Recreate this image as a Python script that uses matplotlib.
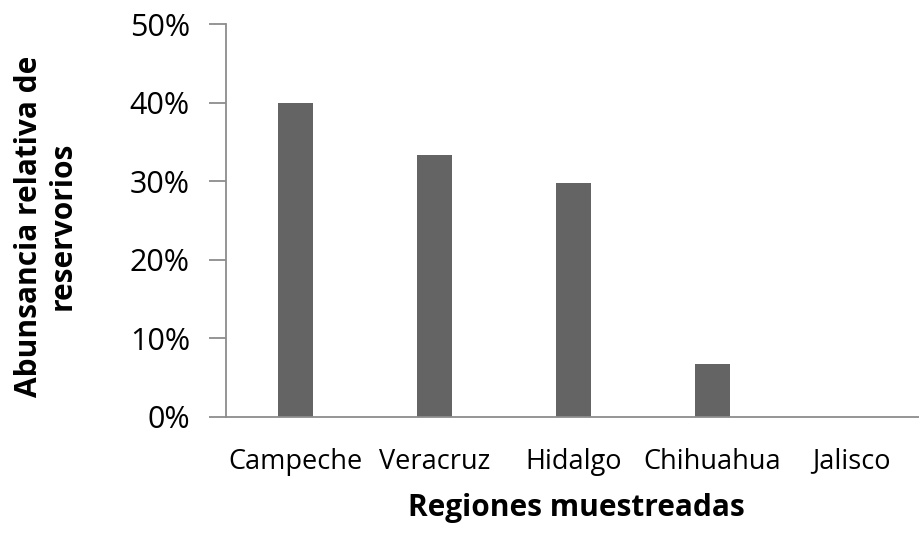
import matplotlib
matplotlib.use("Agg")
import matplotlib.pyplot as plt
from matplotlib.ticker import FuncFormatter

regiones = ["Campeche", "Veracruz", "Hidalgo", "Chihuahua", "Jalisco"]
abundancia = [0.40, 0.333, 0.298, 0.067, 0.0]
yticks = [0.0, 0.1, 0.2, 0.3, 0.4, 0.5]

plt.rcParams["font.family"] = ["Open Sans", "DejaVu Sans"]

fig = plt.figure(figsize=(9.19, 5.54), dpi=100)
ax = fig.add_axes([226 / 919, 1 - 417 / 554, 1 - 226 / 919, (417 - 24) / 554])

x = range(len(regiones))
ax.bar(x, abundancia, width=0.25, color="#646464", zorder=2)

ax.set_xlim(-0.5, 4.485)
ax.set_ylim(0, 0.5)
ax.set_xticks(list(x))
ax.set_xticklabels(regiones, fontsize=19.5)
ax.set_yticks(yticks)
ax.yaxis.set_major_formatter(FuncFormatter(lambda v, p: f"{v * 100:.0f}%"))
ax.tick_params(axis="y", labelsize=22, length=12, width=1.3, color="#8c8c8c", pad=14)
ax.tick_params(axis="x", length=0, pad=22)

for s in ["top", "right"]:
    ax.spines[s].set_visible(False)
for s in ["left", "bottom"]:
    ax.spines[s].set_color("#8c8c8c")
    ax.spines[s].set_linewidth(1.3)

fig.text(576 / 919, 1 - 508 / 554, "Regiones muestreadas", fontsize=21.5,
         fontweight="bold", ha="center", va="center")
fig.text(46 / 919, 1 - 226 / 554, "Abunsancia relativa de\nreservorios", fontsize=21.5,
         fontweight="bold", ha="center", va="center", rotation=90, linespacing=1.15)

fig.savefig("out.png", dpi=100)
